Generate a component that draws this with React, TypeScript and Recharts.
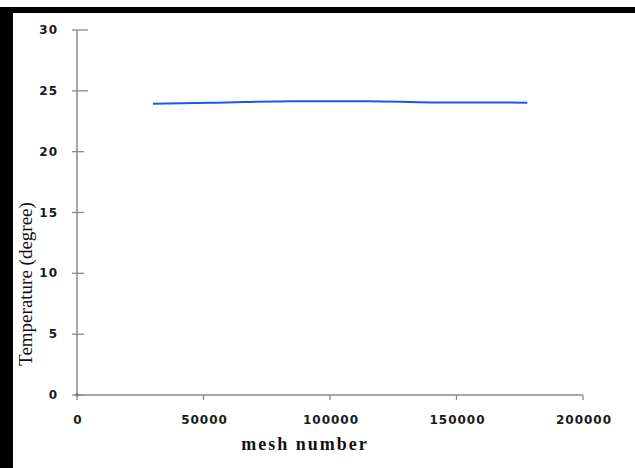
import { LineChart, Line, XAxis, YAxis, Label } from "recharts";

const MESH = [30000, 55000, 85000, 115000, 140000, 178000];
const TEMP = [23.93, 24.02, 24.15, 24.15, 24.05, 24.03];
const ORIGIN_MESH = [0];
const ORIGIN_TEMP = [0];
const X_TICKS = [0, 50000, 100000, 150000, 200000];
const Y_TICKS = [0, 5, 10, 15, 20, 25, 30];

const series = MESH.map((m, i) => ({ mesh: m, temp: TEMP[i] }));
const origin = ORIGIN_MESH.map((m, i) => ({ mesh: m, temp: ORIGIN_TEMP[i] }));

const AXIS = "#8a8a8a";
const tickFont = {
  fontFamily: "DejaVu Sans",
  fontWeight: 700,
  fontSize: 12,
  letterSpacing: 1,
  fill: "#1a1a1a",
};

const YTick = (props: any) => {
  const { x, y, payload } = props;
  const long = payload.value >= 25;
  return (
    <g>
      <line x1={x - 5} x2={x + (long ? 11 : 7)} y1={y} y2={y} stroke={AXIS} strokeWidth={1.3} />
      <text x={x - 19} y={y + 4} textAnchor="end" style={tickFont}>
        {payload.value}
      </text>
    </g>
  );
};

const XTick = (props: any) => {
  const { x, y, payload } = props;
  return (
    <g>
      <line x1={x} x2={x} y1={y} y2={y + 5} stroke={AXIS} strokeWidth={1.3} />
      <text x={x + 1} y={y + 29} textAnchor="middle" style={tickFont}>
        {payload.value}
      </text>
    </g>
  );
};

export default function App() {
  return (
    <div style={{ position: "absolute", left: 0, top: 0, width: 635, height: 468, background: "#fff" }}>
      <div style={{ position: "absolute", left: 0, top: 7, width: 635, height: 6, background: "#000" }} />
      <div style={{ position: "absolute", left: 0, top: 7, width: 13, height: 461, background: "#000" }} />
      <div style={{ position: "absolute", left: 0, top: 0 }}>
        <LineChart width={635} height={468} margin={{ top: 30, right: 52, bottom: 43, left: 0 }}>
          <XAxis
            type="number"
            dataKey="mesh"
            domain={[0, 200000]}
            ticks={X_TICKS}
            height={30}
            tickSize={0}
            tickMargin={0}
            tickLine={false}
            tick={<XTick />}
            interval={0}
            axisLine={{ stroke: AXIS, strokeWidth: 1.5 }}
          >
            <Label
              content={() => (
                <text
                  x={305}
                  y={450}
                  textAnchor="middle"
                  style={{ fontFamily: "Liberation Serif", fontWeight: 700, fontSize: 18, letterSpacing: 2, fill: "#111" }}
                >
                  mesh number
                </text>
              )}
            />
          </XAxis>
          <YAxis
            type="number"
            dataKey="temp"
            domain={[0, 30]}
            ticks={Y_TICKS}
            width={77}
            tickSize={0}
            tickMargin={0}
            tickLine={false}
            tick={<YTick />}
            interval={0}
            axisLine={{ stroke: AXIS, strokeWidth: 1.5 }}
          >
            <Label
              content={() => (
                <text
                  x={32}
                  y={284}
                  textAnchor="middle"
                  transform="rotate(-90 32 284)"
                  style={{ fontFamily: "Liberation Serif", fontSize: 19, fill: "#111" }}
                >
                  Temperature (degree)
                </text>
              )}
            />
          </YAxis>
          <Line
            data={series}
            dataKey="temp"
            type="monotone"
            stroke="#1a58ee"
            strokeWidth={2}
            dot={false}
            isAnimationActive={false}
          />
          <Line
            data={origin}
            dataKey="temp"
            stroke="#1a58ee"
            dot={{ r: 1.8, fill: "#1a58ee", stroke: "none" }}
            isAnimationActive={false}
          />
        </LineChart>
      </div>
    </div>
  );
}
